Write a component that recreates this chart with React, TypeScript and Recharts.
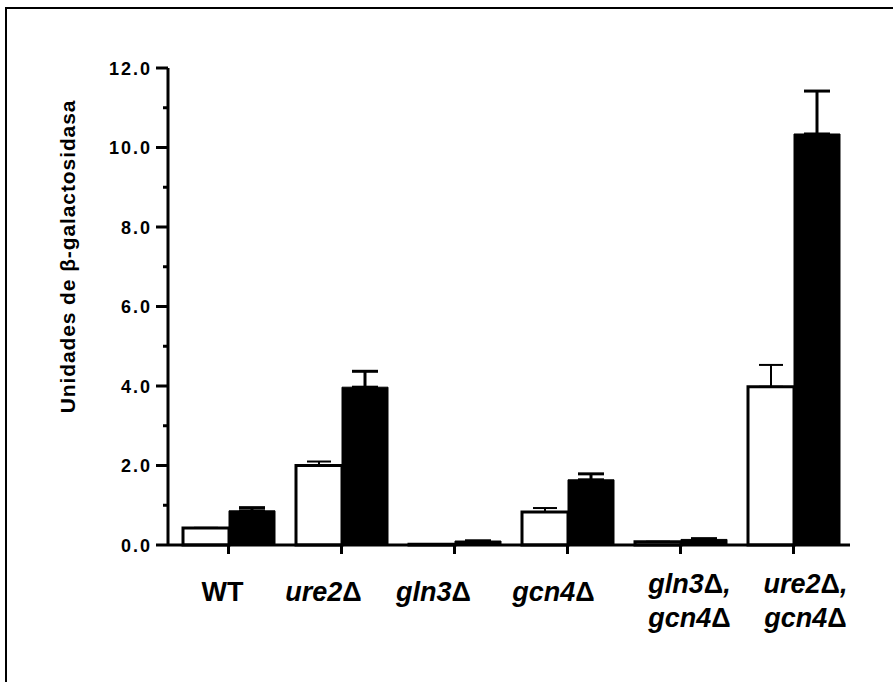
import { BarChart, Bar, XAxis, YAxis, ErrorBar } from 'recharts';

const strains = ['WT', 'ure2Δ', 'gln3Δ', 'gcn4Δ', 'gln3Δ, gcn4Δ', 'ure2Δ, gcn4Δ'];
const openValues = [0.43, 2.0, 0.02, 0.83, 0.08, 3.98];
const filledValues = [0.86, 3.97, 0.1, 1.64, 0.14, 10.34];
const openErrors = [0, 0.1, 0, 0.1, 0, 0.55];
const filledErrors = [0.08, 0.4, 0, 0.15, 0.02, 1.08];
const yTicks = [0, 1, 2, 3, 4, 5, 6, 7, 8, 9, 10, 11, 12];
const yLabel = 'Unidades de β-galactosidasa';

// one-sided (upward) error bars: [lower, upper]
const data = strains.map((strain, i) => ({
  strain,
  open: openValues[i],
  filled: filledValues[i],
  openErr: [0, openErrors[i]],
  filledErr: [0, filledErrors[i]],
}));

const font = '"Liberation Sans", Arial, sans-serif';
// the strain labels sit a little off their ticks in the original
const labelShift = [-6, -18, -21, -14, 9, 12];

const ValueTick = (props: any) => {
  const { x, y, payload } = props;
  const v = payload.value as number;
  const major = v % 2 === 0;
  return (
    <g>
      <line x1={x - (major ? 12 : 5)} x2={x} y1={y} y2={y} stroke="#000" strokeWidth={3} />
      {major && (
        <text x={x - 16} y={y} dy={6.5} textAnchor="end" fontFamily={font} fontWeight="bold"
          fontSize={18} letterSpacing={2} fill="#000">
          {v.toFixed(1)}
        </text>
      )}
    </g>
  );
};

// gene names italic, the delta sign upright
const renderLine = (l: string) =>
  l.split('Δ').map((piece, i, arr) => (
    <tspan key={i}>
      {piece}
      {i < arr.length - 1 && <tspan fontStyle="normal">Δ</tspan>}
    </tspan>
  ));

const StrainTick = (props: any) => {
  const { x, y, payload } = props;
  const idx = strains.indexOf(payload.value);
  const parts = String(payload.value).split(', ');
  const lines = parts.map((t, i) => (i < parts.length - 1 ? t + ',' : t));
  const cx = x + (labelShift[idx] ?? 0);
  const top = lines.length > 1 ? y + 37 : y + 45;
  return (
    <text x={cx} y={top} textAnchor="middle" fontFamily={font} fontWeight="bold" fontSize={27}
      fontStyle={payload.value === 'WT' ? 'normal' : 'italic'} fill="#000">
      {lines.map((l, i) => (
        <tspan key={i} x={cx} dy={i === 0 ? 0 : 34}>{renderLine(l)}</tspan>
      ))}
    </text>
  );
};

const YLabel = (props: any) => {
  const { x, y, height } = props.viewBox;
  const cx = x + 68;
  const cy = y + height / 2 - 50;
  return (
    <text x={cx} y={cy} dy="0.35em" transform={`rotate(-90 ${cx} ${cy})`} textAnchor="middle"
      fontFamily={font} fontWeight="bold" fontSize={21} letterSpacing={0.9} fill="#000">
      {yLabel}
    </text>
  );
};

export default function App() {
  return (
    <div style={{ position: 'absolute', left: 0, top: 0, width: 893, height: 682, background: '#fff', overflow: 'hidden' }}>
      <div style={{ position: 'absolute', left: 5, top: 7, width: 900, height: 700, borderLeft: '2px solid #000', borderTop: '2px solid #000' }} />
      <BarChart width={893} height={682} data={data} margin={{ top: 68, right: 43, left: 0, bottom: 0 }}
        barCategoryGap={11} barGap={0}>
        <XAxis dataKey="strain" height={137} padding={{ left: 4, right: 0 }} interval={0}
          axisLine={{ stroke: '#000', strokeWidth: 3 }} tickSize={9}
          tickLine={{ stroke: '#000', strokeWidth: 3 }} tick={<StrainTick />} />
        <XAxis xAxisId="top" dataKey="strain" orientation="top" height={0} tick={false} tickLine={false}
          axisLine={{ stroke: '#000', strokeWidth: 3 }} />
        <YAxis domain={[0, 12]} ticks={yTicks} width={168} interval={0} tickSize={0} tickMargin={0}
          tickLine={false} axisLine={{ stroke: '#000', strokeWidth: 3 }} tick={<ValueTick />}
          label={<YLabel />} />
        <YAxis yAxisId="right" orientation="right" domain={[0, 12]} width={0} tick={false} tickLine={false}
          axisLine={{ stroke: '#000', strokeWidth: 3 }} />
        <Bar dataKey="open" fill="#fff" stroke="#000" strokeWidth={3} isAnimationActive={false}>
          <ErrorBar dataKey="openErr" direction="y" width={12} stroke="#000" strokeWidth={2} />
        </Bar>
        <Bar dataKey="filled" fill="#000" stroke="#000" strokeWidth={1} isAnimationActive={false}>
          <ErrorBar dataKey="filledErr" direction="y" width={13} stroke="#000" strokeWidth={3} />
        </Bar>
      </BarChart>
    </div>
  );
}
